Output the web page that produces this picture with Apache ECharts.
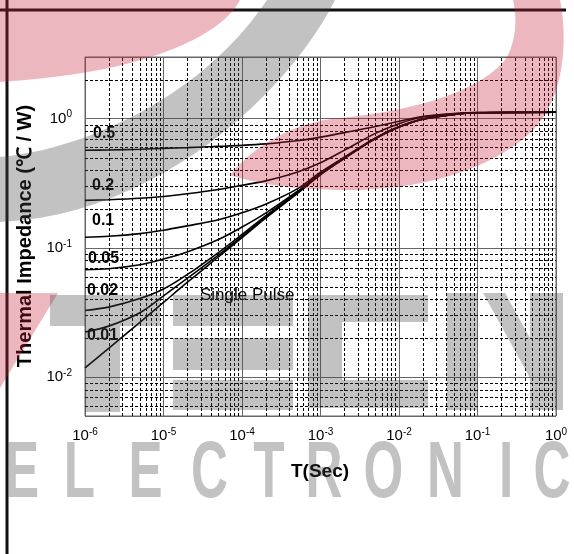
<!DOCTYPE html>
<html>
<head>
<meta charset="utf-8">
<script src="https://cdn.jsdelivr.net/npm/echarts@6/dist/echarts.min.js"></script>
<style>
  html, body { margin: 0; padding: 0; background: #fff; }
  #chart { width: 574px; height: 554px; }
</style>
</head>
<body>
<div id="chart"></div>
<script>
// Pulse duration (s)
const timeSec = [1e-6, 2e-6, 5e-6, 1e-5, 2e-5, 5e-5, 1e-4, 2e-4, 5e-4, 1e-3, 2e-3, 5e-3, 1e-2, 2e-2, 5e-2, 1e-1, 1];

// Transient thermal impedance (°C/W) per duty cycle
const zD050 = [0.569, 0.572, 0.58, 0.589, 0.597, 0.61, 0.621, 0.638, 0.675, 0.72, 0.78, 0.87, 0.955, 1.04, 1.095, 1.115, 1.12];
const zD020 = [0.233, 0.236, 0.242, 0.25, 0.262, 0.283, 0.305, 0.33, 0.385, 0.455, 0.568, 0.769, 0.915, 1.03, 1.09, 1.115, 1.12];
const zD010 = [0.121, 0.123, 0.129, 0.137, 0.148, 0.165, 0.187, 0.218, 0.285, 0.385, 0.503, 0.71, 0.868, 0.995, 1.08, 1.11, 1.12];
const zD005 = [0.0678, 0.069, 0.074, 0.082, 0.093, 0.116, 0.145, 0.186, 0.272, 0.376, 0.497, 0.705, 0.864, 0.992, 1.08, 1.11, 1.12];
const zD002 = [0.0328, 0.0348, 0.0405, 0.048, 0.062, 0.092, 0.127, 0.177, 0.268, 0.372, 0.494, 0.702, 0.862, 0.991, 1.08, 1.11, 1.12];
const zD001 = [0.0223, 0.0248, 0.0315, 0.0425, 0.058, 0.088, 0.123, 0.173, 0.265, 0.37, 0.492, 0.70, 0.861, 0.99, 1.08, 1.11, 1.12];
const zSingle = [0.0118, 0.0167, 0.0265, 0.0378, 0.054, 0.085, 0.12, 0.17, 0.262, 0.368, 0.49, 0.70, 0.86, 0.99, 1.08, 1.11, 1.12];

const curveNames = ['0.5', '0.2', '0.1', '0.05', '0.02', '0.01', 'Single Pulse'];
const curveValues = [zD050, zD020, zD010, zD005, zD002, zD001, zSingle];

// Axis ranges
const xRange = [1e-6, 1];
const yRange = [0.005, 3];

const FONT = '"Liberation Sans", Arial, sans-serif';

// Minor (2..9 x 10^k) grid positions inside an axis range
function minorGrid(lo, hi) {
  const out = [];
  for (let k = Math.floor(Math.log10(lo)); k <= Math.ceil(Math.log10(hi)); k++) {
    for (let m = 2; m <= 9; m++) {
      const v = m * Math.pow(10, k);
      if (v > lo * 1.0001 && v < hi * 0.9999) out.push(v);
    }
  }
  return out;
}

function powerLabel(v) {
  const e = Math.log10(v);
  const r = Math.round(e);
  if (Math.abs(e - r) > 1e-6) return '';
  return '{b|10}{s|' + r + '}';
}

// Flattens a simple M/L/C/Z outline into polygon points
function outline(d) {
  const tok = d.replace(/([MLCZ])/gi, ' $1 ').replace(/,/g, ' ').trim().split(/\s+/);
  const pts = [];
  let i = 0, cur = [0, 0], cmd = 'M';
  while (i < tok.length) {
    if (/^[MLCZ]$/i.test(tok[i])) { cmd = tok[i++].toUpperCase(); if (cmd === 'Z') continue; }
    if (cmd === 'M' || cmd === 'L') {
      cur = [+tok[i], +tok[i + 1]]; i += 2; pts.push(cur.slice());
    } else if (cmd === 'C') {
      const p1 = [+tok[i], +tok[i + 1]], p2 = [+tok[i + 2], +tok[i + 3]], p3 = [+tok[i + 4], +tok[i + 5]];
      i += 6;
      for (let s = 1; s <= 24; s++) {
        const t = s / 24, u = 1 - t;
        pts.push([
          u * u * u * cur[0] + 3 * u * u * t * p1[0] + 3 * u * t * t * p2[0] + t * t * t * p3[0],
          u * u * u * cur[1] + 3 * u * u * t * p1[1] + 3 * u * t * t * p2[1] + t * t * t * p3[1]
        ]);
      }
      cur = p3;
    } else { i++; }
  }
  return pts;
}

const labelRich = {
  b: { fontSize: 15, fontFamily: FONT, color: '#000' },
  s: { fontSize: 10, fontFamily: FONT, color: '#000', padding: [0, 0, 8, 0] }
};

const curveSeries = curveValues.map((vals, i) => ({
  name: curveNames[i],
  type: 'line',
  data: timeSec.map((t, j) => [t, vals[j]]),
  showSymbol: false,
  symbol: 'none',
  smooth: 0.3,
  lineStyle: { color: '#000', width: 1.6 },
  z: 5,
  silent: true
}));

// Dashed minor grid drawn through the axis scales
function minorLineItem(vertical) {
  return function (params, api) {
    const a = vertical ? api.coord([api.value(0), yRange[0]]) : api.coord([xRange[0], api.value(1)]);
    const b = vertical ? api.coord([api.value(0), yRange[1]]) : api.coord([xRange[1], api.value(1)]);
    const snap = v => Math.round(v) + 0.5;
    return {
      type: 'line',
      shape: vertical
        ? { x1: snap(a[0]), y1: a[1], x2: snap(b[0]), y2: b[1] }
        : { x1: a[0], y1: snap(a[1]), x2: b[0], y2: snap(b[1]) },
      style: { stroke: '#000', lineWidth: 1, lineDash: [3, 2] },
      silent: true
    };
  };
}
const minorX = {
  type: 'custom', z: 1, silent: true, clip: false,
  data: minorGrid(xRange[0], xRange[1]).map(v => [v, yRange[0]]),
  renderItem: minorLineItem(true)
};
const minorY = {
  type: 'custom', z: 1, silent: true, clip: false,
  data: minorGrid(yRange[0], yRange[1]).map(v => [xRange[0], v]),
  renderItem: minorLineItem(false)
};

// Watermark overlay colours
const PINK = 'rgba(200, 30, 60, 0.32)';
const GREY = 'rgba(70, 70, 70, 0.33)';

const curveLabelPos = [
  ['0.5', 93, 134], ['0.2', 92, 186], ['0.1', 92, 221],
  ['0.05', 88, 259], ['0.02', 87, 291], ['0.01', 87, 336]
];

const graphics = [];

// frame lines
graphics.push({ type: 'line', shape: { x1: 0, y1: 10, x2: 566, y2: 10 }, style: { stroke: '#111', lineWidth: 3 }, z: 50 });
graphics.push({ type: 'line', shape: { x1: 7, y1: 0, x2: 7, y2: 554 }, style: { stroke: '#111', lineWidth: 3 }, z: 50 });

// curve labels
curveLabelPos.forEach(([t, x, y]) => graphics.push({
  type: 'text', x, y, z: 20,
  style: { text: t, font: 'bold 16px ' + FONT, fill: '#000', textVerticalAlign: 'middle' }
}));
graphics.push({
  type: 'text', x: 200, y: 295, z: 20,
  style: { text: 'Single Pulse', font: '17px ' + FONT, fill: '#000', textVerticalAlign: 'middle' }
});

// axis titles
graphics.push({
  type: 'text', x: 25, y: 236, rotation: Math.PI / 2, z: 20,
  style: { text: 'Thermal Impedance (℃ / W)', font: 'bold 20px ' + FONT, fill: '#000', textAlign: 'center', textVerticalAlign: 'middle' }
});
graphics.push({
  type: 'text', x: 320, y: 472, z: 20,
  style: { text: 'T(Sec)', font: 'bold 19px ' + FONT, fill: '#000', textAlign: 'center', textVerticalAlign: 'middle' }
});

// watermark: swooshes
const swooshes = [
  ['M0,0 L240,0 C225,30 160,72 0,82 Z', PINK],
  ['M230,175 C250,150 290,122 340,118 C420,110 480,90 505,60 C515,45 518,20 513,0 L560,0 C568,40 565,100 530,133 C490,170 420,190 350,190 C300,190 260,185 230,175 Z', PINK],
  ['M0,293 L58,293 L0,388 Z', PINK],
  ['M0,157 C80,150 200,100 267,0 L335,0 C290,90 160,215 0,222 Z', GREY],
  ['M483,293 L505,293 L530,338 L530,378 Z', GREY]
];
swooshes.forEach(([d, fill]) => graphics.push({
  type: 'polygon', z: 100, silent: true, shape: { points: outline(d) }, style: { fill }
}));

// watermark: block letters
const blocks = [
  [50, 295, 110, 31], [85, 326, 35, 86],
  [173, 295, 120, 31], [173, 338, 120, 32], [173, 380, 120, 30],
  [308, 295, 120, 27], [308, 322, 34, 58], [308, 380, 120, 28],
  [447, 293, 30, 117], [530, 293, 33, 117]
];
blocks.forEach(([x, y, w, h]) => graphics.push({ type: 'rect', z: 100, silent: true, shape: { x, y, width: w, height: h }, style: { fill: GREY } }));

// watermark: wordmark
const wordLetters = [['E', 22], ['L', 79.5], ['E', 145.5], ['C', 209.5], ['T', 269], ['R', 324], ['O', 383.5], ['N', 445.5], ['I', 506], ['C', 552]];
wordLetters.forEach(([ch, x]) => graphics.push({
  type: 'text', x, y: 475, scaleX: 0.64, z: 100, silent: true,
  style: { text: ch, font: 'bold 80px ' + FONT, fill: GREY, textAlign: 'center', textVerticalAlign: 'middle' }
}));

const chart = echarts.init(document.getElementById('chart'), null, { renderer: 'canvas' });
chart.setOption({
  animation: false,
  backgroundColor: '#fff',
  grid: { left: 85, right: 18, top: 57, bottom: 138, show: true, borderColor: '#666', borderWidth: 1, containLabel: false },
  xAxis: {
    type: 'log', logBase: 10, min: xRange[0], max: xRange[1],
    axisLine: { show: false }, axisTick: { show: false },
    splitLine: { show: true, lineStyle: { color: '#666', width: 1 } },
    axisLabel: { margin: 11, formatter: powerLabel, rich: labelRich }
  },
  yAxis: {
    type: 'log', logBase: 10, min: yRange[0], max: yRange[1],
    axisLine: { show: false }, axisTick: { show: false },
    splitLine: { show: true, lineStyle: { color: '#666', width: 1 } },
    axisLabel: { margin: 13, formatter: powerLabel, rich: labelRich }
  },
  series: [minorX, minorY].concat(curveSeries),
  graphic: { elements: graphics }
});
</script>
</body>
</html>
